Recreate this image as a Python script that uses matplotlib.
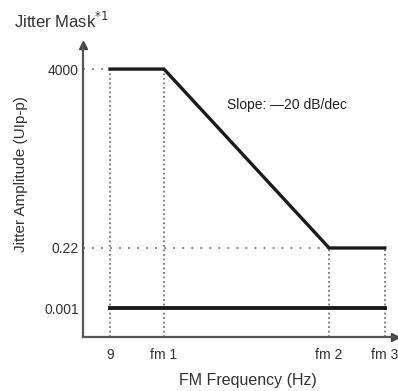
import matplotlib
matplotlib.use("Agg")
import matplotlib.pyplot as plt

# ---- data (schematic) ----
freq_labels = ["9", "fm 1", "fm 2", "fm 3"]
amp_labels = ["4000", "0.22", "0.001"]
amp_values = [4000, 0.22, 0.001]
upper_mask = [4000, 4000, 0.22, 0.22]
lower_mask = [0.001, 0.001, 0.001, 0.001]

# ---- schematic layout positions ----
x_pos = [0.0, 1.0, 4.06, 5.09]
y_level = {4000: 9.24, 0.22: 3.07, 0.001: 1.0}

plt.rcParams['font.family'] = ['Liberation Sans', 'DejaVu Sans']
fig = plt.figure(figsize=(3.98, 3.91), dpi=100)
ax = fig.add_axes([83/398, 54/391, 312/398, 292/391])
ax.set_xlim(-0.5, 5.28)
ax.set_ylim(0, 10.07)

for s in ["top", "right"]:
    ax.spines[s].set_visible(False)
for s in ["left", "bottom"]:
    ax.spines[s].set_color("#555555")
    ax.spines[s].set_linewidth(1.6)
ax.plot([0], [1], marker="^", color="#444444", markersize=6, transform=ax.transAxes, clip_on=False)
ax.plot([1], [0], marker=">", color="#444444", markersize=6, transform=ax.transAxes, clip_on=False)

dot_col = "#777777"
# vertical dotted guides
for xp, v in zip(x_pos, upper_mask):
    ax.plot([xp, xp], [0, y_level[v]], color=dot_col, lw=1.3, ls=(0, (1, 1.5)), zorder=1)
# horizontal dotted guides
ax.plot([-0.5, x_pos[0]], [y_level[upper_mask[0]]]*2, color=dot_col, lw=1.3, ls=(0, (1, 4)), zorder=1)
ax.plot([-0.5, x_pos[2]], [y_level[upper_mask[2]]]*2, color=dot_col, lw=1.3, ls=(0, (1, 4)), zorder=1)

# mask lines
ax.plot(x_pos, [y_level[v] for v in upper_mask], color="#1a1a1a", lw=2.4, zorder=3, solid_joinstyle="miter")
ax.plot(x_pos, [y_level[v] for v in lower_mask], color="#1a1a1a", lw=2.8, zorder=3)

ax.set_xticks(x_pos)
ax.set_xticklabels(freq_labels, fontsize=10, color="#333333")
ax.set_yticks([y_level[v] for v in amp_values])
ax.set_yticklabels(amp_labels, fontsize=10, color="#333333")
ax.tick_params(axis="x", length=0, pad=8)
ax.tick_params(axis="y", length=0, pad=3)

ax.text(2.17, 8.0, "Slope: \u201420 dB/dec", fontsize=10, color="#222222", va="center")

fig.text(14/398, 1 - 21/391, "Jitter Mask$^{*1}$", fontsize=12, color="#333333", va="center", ha="left")
fig.text(248/398, 1 - 381/391, "FM Frequency (Hz)", fontsize=11.5, color="#333333", va="center", ha="center")
fig.text(21/398, 1 - 174/391, "Jitter Amplitude (UIp-p)", fontsize=11, color="#333333", va="center", ha="center", rotation=90)

fig.savefig("out.png", dpi=100)
